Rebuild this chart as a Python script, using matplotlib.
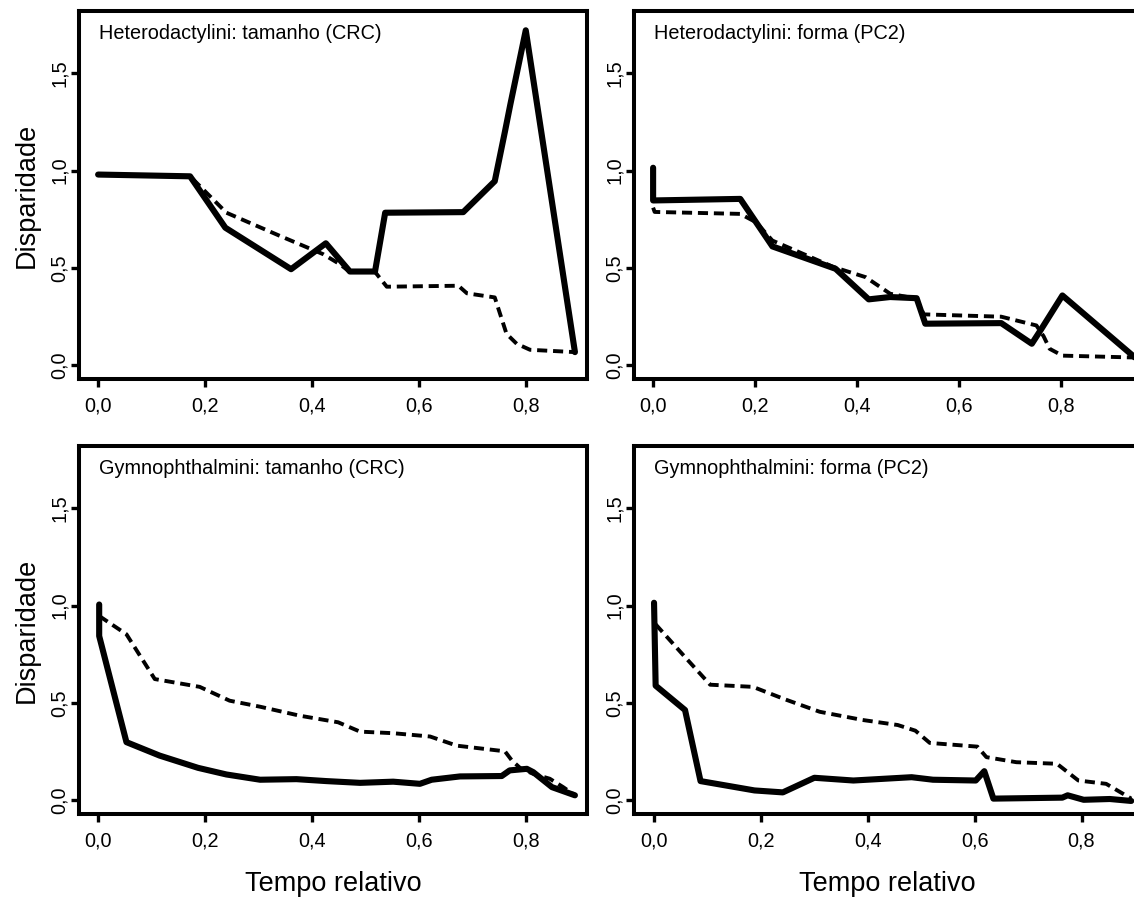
import matplotlib
matplotlib.use("Agg")
import matplotlib.pyplot as plt

plt.rcParams['font.family'] = ['Liberation Sans', 'DejaVu Sans']

# Heterodactylini: tamanho (CRC)
het_crc_t = [0.0, 0.172, 0.238, 0.361, 0.426, 0.471, 0.518, 0.537, 0.683, 0.742, 0.761, 0.771, 0.80, 0.892]
het_crc_obs = [0.98, 0.971, 0.707, 0.494, 0.627, 0.482, 0.482, 0.784, 0.787, 0.946, 1.20, 1.338, 1.721, 0.068]
het_crc_sim_t = [0.0, 0.172, 0.240, 0.340, 0.421, 0.452, 0.471, 0.518, 0.540, 0.674, 0.690, 0.742, 0.752,
                 0.764, 0.783, 0.808, 0.892]
het_crc_sim = [0.98, 0.971, 0.784, 0.665, 0.571, 0.520, 0.48, 0.48, 0.404, 0.409, 0.370, 0.349, 0.264,
               0.162, 0.111, 0.080, 0.068]

# Heterodactylini: forma (PC2)
het_pc2_t = [0.0, 0.0, 0.171, 0.234, 0.358, 0.423, 0.465, 0.517, 0.534, 0.683, 0.743, 0.762, 0.803, 0.95]
het_pc2_obs = [1.015, 0.847, 0.855, 0.611, 0.496, 0.339, 0.351, 0.345, 0.214, 0.217, 0.111, 0.188, 0.359, 0.03]
het_pc2_sim_t = [0.0, 0.003, 0.171, 0.202, 0.234, 0.354, 0.417, 0.465, 0.517, 0.531, 0.683, 0.752,
                 0.766, 0.778, 0.803, 0.95]
het_pc2_sim = [0.81, 0.788, 0.778, 0.735, 0.641, 0.505, 0.453, 0.368, 0.342, 0.262, 0.250, 0.205,
               0.150, 0.085, 0.05, 0.04]

# Gymnophthalmini: tamanho (CRC)
gym_crc_t = [0.002, 0.002, 0.053, 0.115, 0.187, 0.240, 0.303, 0.371, 0.427, 0.490, 0.552, 0.602, 0.624,
             0.677, 0.755, 0.770, 0.802, 0.814, 0.849, 0.892]
gym_crc_obs = [1.006, 0.844, 0.299, 0.230, 0.167, 0.133, 0.106, 0.109, 0.099, 0.090, 0.096, 0.085, 0.106,
               0.123, 0.125, 0.154, 0.162, 0.145, 0.068, 0.026]
gym_crc_sim_t = [0.002, 0.053, 0.106, 0.190, 0.246, 0.303, 0.377, 0.449, 0.490, 0.552, 0.621, 0.671,
                 0.761, 0.774, 0.790, 0.814, 0.845, 0.870, 0.892]
gym_crc_sim = [0.947, 0.853, 0.623, 0.583, 0.512, 0.481, 0.435, 0.401, 0.353, 0.345, 0.328, 0.281,
               0.252, 0.205, 0.165, 0.136, 0.111, 0.068, 0.026]

# Gymnophthalmini: forma (PC2)
gym_pc2_t = [0.0, 0.003, 0.058, 0.087, 0.188, 0.241, 0.300, 0.373, 0.482, 0.522, 0.602, 0.618, 0.635,
             0.764, 0.774, 0.804, 0.853, 0.893]
gym_pc2_obs = [1.015, 0.589, 0.464, 0.099, 0.051, 0.041, 0.116, 0.102, 0.119, 0.106, 0.102, 0.150, 0.009,
               0.014, 0.026, 0.003, 0.007, -0.003]
gym_pc2_sim_t = [0.003, 0.059, 0.105, 0.185, 0.244, 0.310, 0.390, 0.456, 0.489, 0.516, 0.605, 0.622,
                 0.678, 0.754, 0.794, 0.846, 0.893]
gym_pc2_sim = [0.904, 0.733, 0.594, 0.583, 0.520, 0.455, 0.413, 0.387, 0.358, 0.295, 0.276, 0.222,
               0.196, 0.188, 0.102, 0.085, 0.009]

x_ticks = [0.0, 0.2, 0.4, 0.6, 0.8]
y_ticks = [0.0, 0.5, 1.0, 1.5]

fig = plt.figure(figsize=(11.34, 8.99), dpi=100)

W, H = 1134, 899
def box(left, top, right, bottom):
    return [left / W, (H - bottom) / H, (right - left) / W, (bottom - top) / H]

panels = [
    (box(79.3, 11, 586.7, 379), "Heterodactylini: tamanho (CRC)",
     het_crc_t, het_crc_obs, het_crc_sim_t, het_crc_sim, (-0.0352, 0.914), True, False),
    (box(634, 11, 1141.4, 379), "Heterodactylini: forma (PC2)",
     het_pc2_t, het_pc2_obs, het_pc2_sim_t, het_pc2_sim, (-0.0375, 0.958), False, False),
    (box(79.3, 446, 586.7, 814), "Gymnophthalmini: tamanho (CRC)",
     gym_crc_t, gym_crc_obs, gym_crc_sim_t, gym_crc_sim, (-0.0352, 0.914), True, True),
    (box(634, 446, 1141.4, 814), "Gymnophthalmini: forma (PC2)",
     gym_pc2_t, gym_pc2_obs, gym_pc2_sim_t, gym_pc2_sim, (-0.0375, 0.912), False, True),
]

for rect, title, t_obs, obs, t_sim, sim, xlim, ylab, xlab in panels:
    ax = fig.add_axes(rect)
    ax.plot(t_sim, sim, color='black', lw=2.8, linestyle=(0, (2.6, 1.5)), dash_capstyle='butt')
    ax.plot(t_obs, obs, color='black', lw=4.4, solid_capstyle='round', solid_joinstyle='round')
    ax.set_xlim(*xlim)
    ax.set_ylim(-0.07, 1.82)
    ax.set_xticks(x_ticks)
    ax.set_xticklabels([f"{v:.1f}".replace('.', ',') for v in x_ticks], fontsize=14.3)
    ax.set_yticks(y_ticks)
    ax.set_yticklabels([f"{v:.1f}".replace('.', ',') for v in y_ticks], fontsize=14.3,
                       rotation=90, va='center')
    for s in ax.spines.values():
        s.set_linewidth(2.9)
    ax.tick_params(axis='both', direction='out', length=5.5, width=2.4)
    ax.tick_params(axis='x', pad=7)
    ax.tick_params(axis='y', pad=2)
    ax.text(0.039, 0.940, title, transform=ax.transAxes, fontsize=14.3, va='center', ha='left')
    if ylab:
        ax.set_ylabel('Disparidade', fontsize=19.5, va='center')
        ax.yaxis.set_label_coords(-0.103, 0.5)
    if xlab:
        ax.set_xlabel('Tempo relativo', fontsize=19.5, va='center')
        ax.xaxis.set_label_coords(0.5, -0.19)

fig.savefig("out.png", dpi=100)
